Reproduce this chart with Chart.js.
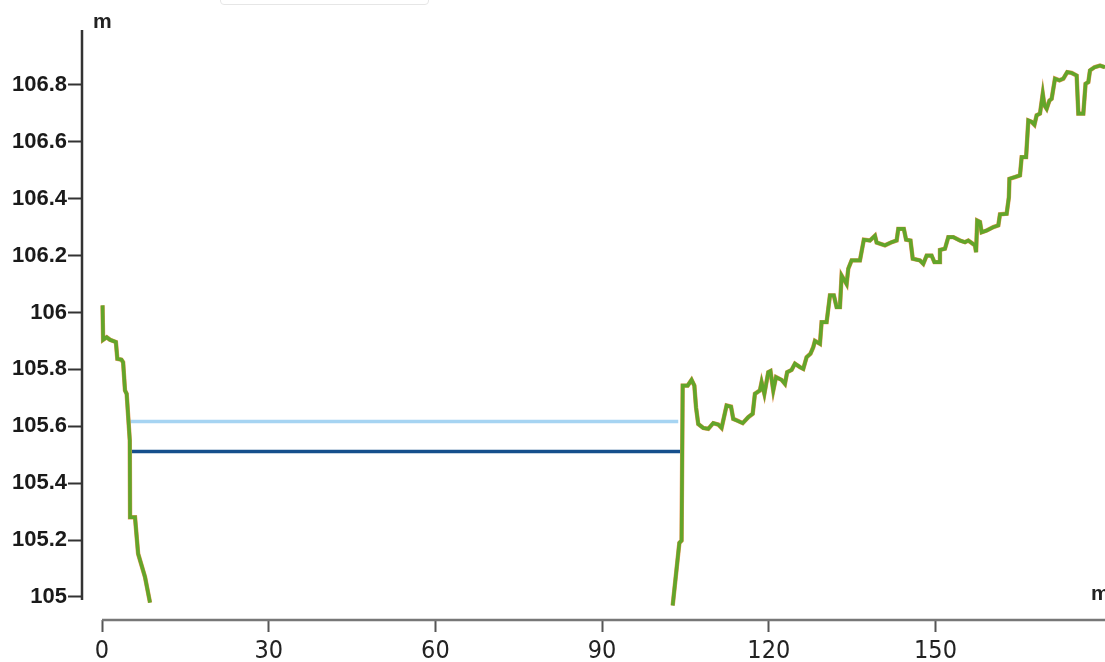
<!DOCTYPE html>
<html>
<head>
<meta charset="utf-8">
<script src="https://cdn.jsdelivr.net/npm/chart.js@4/dist/chart.umd.min.js"></script>
<style>
  body { margin: 0; background: #fff; overflow: hidden; }
  #wrap { position: relative; width: 1105px; height: 662px; }
  #legendBox { position: absolute; left: 220px; top: -20px; width: 207px; height: 23px;
    border: 1px solid #e6e6e6; border-radius: 4px; }
</style>
</head>
<body>
<div id="wrap">
  <canvas id="profileChart" width="1105" height="662"></canvas>
  <div id="legendBox"></div>
</div>
<script>
// distance along the section (m) and ground level (m), gap = null
const profileX = [0.1, 0.2, 0.85, 1.44, 2.5, 2.76, 3.5, 3.8, 4.14, 4.44, 5.0, 5.05, 5.94, 6.5, 7.74, 8.64,
  null,
  102.7, 103.9, 104.3, 104.5, 105.4, 106.1, 106.6, 106.9, 107.3, 108.2, 109.1, 110.0, 110.9, 111.5,
  112.4, 113.2, 113.6, 114.3, 115.3, 116.3, 117.1, 117.5, 118.4, 118.7, 119.2, 119.9, 120.3, 120.8,
  121.3, 122.3, 122.9, 123.3, 124.1, 124.7, 125.6, 126.2, 126.8, 127.5, 128.0, 128.3, 129.2, 129.5,
  130.4, 131.0, 131.7, 132.2, 132.8, 133.1, 134.0, 134.3, 134.9, 136.4, 137.1, 138.2, 139.1, 139.4,
  140.9, 142.1, 143.0, 143.3, 144.3, 144.7, 145.5, 145.9, 147.2, 147.8, 148.4, 149.3, 149.8, 150.7,
  150.8, 151.7, 152.3, 153.2, 154.4, 155.3, 155.9, 157.1, 157.3, 157.5, 158.0, 158.3, 159.2, 160.4,
  161.3, 161.6, 162.8, 163.2, 163.3, 164.3, 165.2, 165.5, 166.3, 166.7, 167.3, 167.8, 168.2, 168.8,
  169.3, 169.6, 170.0, 170.5, 170.9, 171.5, 172.3, 173.0, 173.7, 174.5, 175.4, 175.7, 176.6, 177.0,
  177.5, 177.8, 178.6, 179.6, 180.5];
const profileY = [106.025, 105.904, 105.913, 105.904, 105.896, 105.837, 105.834, 105.825, 105.726, 105.714, 105.55, 105.28, 105.28, 105.152, 105.07, 104.98,
  null,
  104.97, 105.19, 105.198, 105.743, 105.743, 105.763, 105.743, 105.667, 105.608, 105.594, 105.591, 105.611, 105.606, 105.594,
  105.673, 105.669, 105.626, 105.62, 105.611, 105.632, 105.644, 105.714, 105.726, 105.755, 105.714, 105.79, 105.794, 105.726,
  105.773, 105.763, 105.749, 105.79, 105.798, 105.82, 105.808, 105.802, 105.843, 105.855, 105.878, 105.9, 105.89, 105.966,
  105.966, 106.06, 106.06, 106.019, 106.019, 106.13, 106.1, 106.154, 106.183, 106.183, 106.256, 106.253, 106.27, 106.246,
  106.236, 106.247, 106.253, 106.294, 106.294, 106.256, 106.253, 106.189, 106.183, 106.171, 106.2, 106.2, 106.177, 106.177,
  106.22, 106.224, 106.265, 106.265, 106.253, 106.247, 106.253, 106.236, 106.212, 106.323, 106.318, 106.282, 106.288, 106.3,
  106.306, 106.345, 106.347, 106.405, 106.47, 106.476, 106.482, 106.546, 106.546, 106.675, 106.67, 106.66, 106.693, 106.699,
  106.769, 106.728, 106.716, 106.745, 106.751, 106.822, 106.816, 106.822, 106.845, 106.842, 106.833, 106.699, 106.699, 106.804,
  106.81, 106.851, 106.862, 106.868, 106.862];

// water levels: start/end distance and height
const upperLevelX = [5.0, 103.7];
const upperLevel = 105.617;
const lowerLevelX = [5.0, 104.6];
const lowerLevel = 105.511;

const yTicks = [105, 105.2, 105.4, 105.6, 105.8, 106, 106.2, 106.4, 106.6, 106.8];
const xTicks = [0, 30, 60, 90, 120, 150];

const toPoints = (xs, ys) => xs.map((x, i) => ({ x: x, y: ys[i] }));
const profilePts = profileX.map((x, i) => x === null ? { x: NaN, y: null } : { x: x, y: profileY[i] });

const axisPlugin = {
  id: 'axisLines',
  afterDraw(chart) {
    const ctx = chart.ctx;
    const xs = chart.scales.x, ys = chart.scales.y;
    const area = chart.chartArea;
    ctx.save();
    ctx.lineWidth = 2.5;
    ctx.strokeStyle = '#333';
    ctx.beginPath();
    ctx.moveTo(area.left, area.top);
    ctx.lineTo(area.left, ys.getPixelForValue(105) + 3);
    ctx.stroke();
    ctx.strokeStyle = '#777';
    ctx.beginPath();
    ctx.moveTo(xs.getPixelForValue(0), area.bottom);
    ctx.lineTo(area.right, area.bottom);
    ctx.stroke();
    ctx.fillStyle = '#222';
    ctx.font = 'bold 21px "Liberation Sans", Arial, sans-serif';
    ctx.textBaseline = 'alphabetic';
    ctx.fillText('m', area.left + 11, 28);
    ctx.fillText('m', area.right - 14, 600);
    ctx.restore();
  }
};

new Chart(document.getElementById('profileChart'), {
  type: 'line',
  data: {
    datasets: [
      { data: profilePts, borderColor: '#62a52a', borderWidth: 3.6, pointRadius: 0, spanGaps: false, tension: 0, order: 0 },
      { data: profilePts, borderColor: '#e89a5c', borderWidth: 4.4, pointRadius: 0, spanGaps: false, tension: 0, order: 1 },
      { data: toPoints(upperLevelX, [upperLevel, upperLevel]), borderColor: '#a6d4f2', borderWidth: 3.5, pointRadius: 0, order: 2 },
      { data: toPoints(lowerLevelX, [lowerLevel, lowerLevel]), borderColor: '#154f8c', borderWidth: 3.5, pointRadius: 0, order: 2 }
    ]
  },
  options: {
    responsive: false,
    animation: false,
    devicePixelRatio: 1,
    layout: { padding: { top: 30, right: 0, left: 0, bottom: 0 } },
    plugins: { legend: { display: false }, tooltip: { enabled: false } },
    scales: {
      x: {
        type: 'linear',
        min: -3.6,
        max: 180.5,
        afterFit: s => { s.height = 42; },
        afterBuildTicks: s => { s.ticks = xTicks.map(v => ({ value: v })); },
        border: { display: false },
        grid: { drawOnChartArea: false, drawTicks: true, tickLength: 12, tickColor: '#555', tickWidth: 2 },
        ticks: {
          color: '#222',
          padding: 4,
          maxRotation: 0,
          font: { family: '"Liberation Sans Narrow", "DejaVu Sans Condensed", Arial, sans-serif', size: 25 }
        }
      },
      y: {
        min: 104.919,
        max: 106.993,
        afterFit: s => { s.width = 82; },
        afterBuildTicks: s => { s.ticks = yTicks.map(v => ({ value: v })); },
        border: { display: false },
        grid: { drawOnChartArea: false, drawTicks: true, tickLength: 14, tickColor: '#333', tickWidth: 2 },
        ticks: {
          color: '#1a1a1a',
          padding: 1,
          font: { family: '"Liberation Sans", Arial, sans-serif', size: 22, weight: 'bold' },
          callback: v => String(Number(v.toFixed(1)))
        }
      }
    }
  },
  plugins: [axisPlugin]
});
</script>
</body>
</html>
